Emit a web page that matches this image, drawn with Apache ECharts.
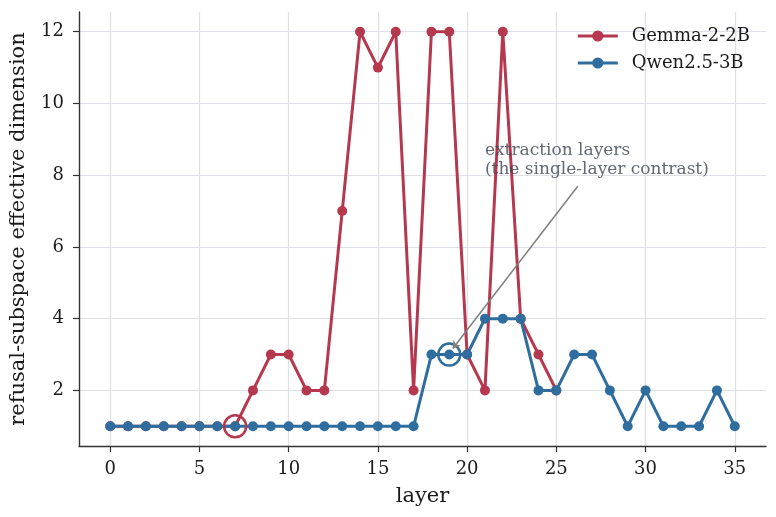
<!DOCTYPE html>
<html><head><meta charset="utf-8">
<script src="https://cdn.jsdelivr.net/npm/echarts@6/dist/echarts.min.js"></script>
<style>html,body{margin:0;padding:0;background:#fff}#c{width:776px;height:517px}</style>
</head><body><div id="c"></div>
<script>
const gemmaLayers = [0,1,2,3,4,5,6,7,8,9,10,11,12,13,14,15,16,17,18,19,20,21,22,23,24,25];
const gemmaValues = [1,1,1,1,1,1,1,1,2,3,3,2,2,7,12,11,12,2,12,12,3,2,12,4,3,2];
const qwenLayers = [0,1,2,3,4,5,6,7,8,9,10,11,12,13,14,15,16,17,18,19,20,21,22,23,24,25,26,27,28,29,30,31,32,33,34,35];
const qwenValues = [1,1,1,1,1,1,1,1,1,1,1,1,1,1,1,1,1,1,3,3,3,4,4,4,2,2,3,3,2,1,2,1,1,1,2,1];
const xTicks = [0,5,10,15,20,25,30,35];
const yTicks = [2,4,6,8,10,12];
const gemmaExtraction = [7, 1];
const qwenExtraction = [19, 3];
const annotationText = ['extraction layers', '(the single-layer contrast)'];
const annotationTextAt = [21, 8];
const arrowFrom = [26.2, 7.69];
const arrowTo = [19.2, 3.17];

const RED = '#b5384e', BLUE = '#2e6d9e';
const FONT = 'DejaVu Serif';
const chart = echarts.init(document.getElementById('c'));
chart.setOption({
  animation: false,
  backgroundColor: '#fff',
  textStyle: {fontFamily: FONT},
  grid: {left: 78, right: 10, top: 12, bottom: 71, containLabel: false},
  legend: {
    data: ['Gemma-2-2B', 'Qwen2.5-3B'],
    right: 21, top: 22, orient: 'vertical', itemWidth: 40, itemHeight: 14, itemGap: 9,
    lineStyle: {width: 3},
    textStyle: {fontFamily: FONT, fontSize: 18, lineHeight: 18, color: '#1a1a1a', padding: [0, 0, 0, 9]}
  },
  xAxis: {
    type: 'value', min: -1.75, max: 36.75,
    name: 'layer', nameLocation: 'middle', nameGap: 40,
    nameTextStyle: {fontFamily: FONT, fontSize: 21, color: '#1a1a1a'},
    axisLine: {onZero: false, lineStyle: {color: '#333', width: 1.4}},
    axisTick: {show: true, customValues: xTicks, length: 6, lineStyle: {color: '#333', width: 1.2}},
    axisLabel: {customValues: xTicks, fontFamily: FONT, fontSize: 18, color: '#1a1a1a', margin: 14},
    splitLine: {show: true, lineStyle: {color: '#dde1e7', width: 1.2}}
  },
  yAxis: {
    type: 'value', min: 0.45, max: 12.55,
    name: 'refusal-subspace effective dimension', nameLocation: 'middle', nameGap: 50,
    nameTextStyle: {fontFamily: FONT, fontSize: 21, color: '#1a1a1a'},
    axisLine: {show: true, onZero: false, lineStyle: {color: '#333', width: 1.4}},
    axisTick: {show: true, customValues: yTicks, length: 6, lineStyle: {color: '#333', width: 1.2}},
    axisLabel: {customValues: yTicks, fontFamily: FONT, fontSize: 18, color: '#1a1a1a', margin: 15},
    splitLine: {show: true, lineStyle: {color: '#dde1e7', width: 1.2}}
  },
  series: [
    {
      name: 'Gemma-2-2B', type: 'line', z: 2,
      data: gemmaLayers.map((l, i) => [l, gemmaValues[i]]),
      symbol: 'circle', symbolSize: 10, showSymbol: true,
      lineStyle: {color: RED, width: 3}, itemStyle: {color: RED}
    },
    {
      name: 'Qwen2.5-3B', type: 'line', z: 3,
      data: qwenLayers.map((l, i) => [l, qwenValues[i]]),
      symbol: 'circle', symbolSize: 10, showSymbol: true,
      lineStyle: {color: BLUE, width: 3}, itemStyle: {color: BLUE}
    },
    {
      name: 'extraction-gemma', type: 'scatter', z: 4, silent: true,
      data: [gemmaExtraction], symbol: 'circle', symbolSize: 22,
      itemStyle: {color: 'rgba(0,0,0,0)', borderColor: RED, borderWidth: 2.5, opacity: 1}
    },
    {
      name: 'extraction-qwen', type: 'scatter', z: 4, silent: true,
      data: [qwenExtraction], symbol: 'circle', symbolSize: 22,
      itemStyle: {color: 'rgba(0,0,0,0)', borderColor: BLUE, borderWidth: 2.5, opacity: 1}
    },
    {
      name: 'annotation', type: 'scatter', z: 5, silent: true,
      data: [annotationTextAt], symbolSize: 0,
      label: {
        show: true, position: [0, 4], align: 'left', verticalAlign: 'bottom',
        formatter: annotationText.join('\n'),
        fontFamily: FONT, fontSize: 17, lineHeight: 19, color: '#394150'
      },
      markLine: {
        silent: true, symbol: ['none', 'arrow'], symbolSize: 7,
        lineStyle: {color: '#808080', width: 1.5, type: 'solid'},
        label: {show: false},
        data: [[{coord: arrowFrom}, {coord: arrowTo}]]
      }
    }
  ]
});
</script></body></html>
